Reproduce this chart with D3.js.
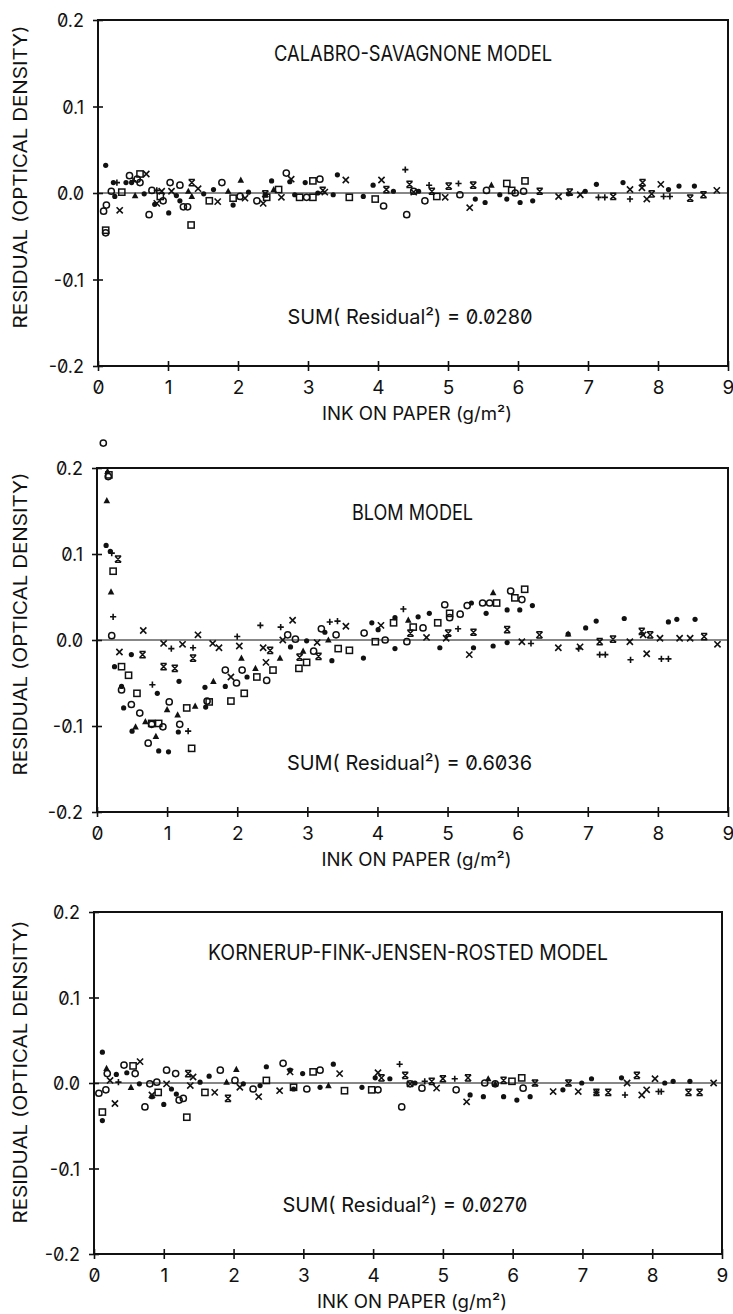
<!DOCTYPE html>
<html><head><meta charset="utf-8">
<script src="https://cdn.jsdelivr.net/npm/d3@7"></script>
<style>
html,body{margin:0;padding:0;background:#fff;}
svg{display:block;}
text{font-family:Inter,"DejaVu Sans",sans-serif;fill:#111;font-feature-settings:"zero" 1, "ss01" 0;}
</style></head><body>
<svg id="chart" width="733" height="1314"></svg>
<script>
// ---------- tick labels / texts ----------
const xTicks = [0,1,2,3,4,5,6,7,8,9];
const yTicks = [-0.2,-0.1,0,0.1,0.2];
const yTickLabels = ["-0.2","-0.1","0.0","0.1","0.2"];
const titles = ["CALABRO-SAVAGNONE MODEL","BLOM MODEL","KORNERUP-FINK-JENSEN-ROSTED MODEL"];
const sumValues = ["0.0280","0.6036","0.0270"];
const xAxisLabel = "INK ON PAPER (g/m²)";
const yAxisLabel = "RESIDUAL (OPTICAL DENSITY)";

// ---------- Panel 1: Calabro-Savagnone ----------
const csDot = [[0.11,0.032],[0.22,0.012],[0.24,-0.004],[0.40,0.012],[0.48,0.012],[0.66,-0.001],[0.81,-0.013],[1.01,-0.023],[1.12,-0.003],[1.17,-0.009],[1.51,-0.001],[1.65,0.004],[1.93,-0.014],[2.15,0.001],[2.39,-0.002],[2.48,0.014],[2.74,0.013],[2.81,-0.002],[2.96,0.012],[3.14,0.000],[3.36,-0.002],[3.42,0.021],[3.79,-0.004],[3.93,0.009],[4.22,0.002],[4.58,0.002],[5.39,-0.007],[5.53,-0.011],[5.74,-0.002],[5.84,-0.007],[6.03,-0.011],[6.21,-0.009],[6.72,-0.001],[6.96,0.002],[7.12,0.010],[7.50,0.012],[8.15,0.004],[8.30,0.008],[8.52,0.008]];
const csCircle = [[0.08,-0.021],[0.12,-0.014],[0.11,-0.046],[0.19,0.002],[0.45,0.020],[0.56,0.016],[0.60,0.012],[0.73,-0.025],[0.77,0.003],[0.93,-0.009],[1.03,0.012],[1.17,0.009],[1.22,-0.016],[1.28,-0.016],[1.77,0.012],[2.03,-0.004],[2.27,-0.009],[2.69,0.023],[2.98,-0.005],[3.17,0.016],[4.08,-0.015],[4.41,-0.025],[4.51,0.002],[4.67,-0.009],[5.17,-0.002],[5.55,0.003],[5.96,0.000],[6.08,0.002]];
const csSquare = [[0.11,-0.043],[0.34,0.001],[0.60,0.022],[0.89,-0.004],[1.33,-0.037],[1.59,-0.009],[1.93,-0.006],[2.41,-0.005],[2.58,0.004],[2.88,-0.005],[3.07,-0.005],[3.07,0.014],[3.59,-0.005],[3.96,-0.007],[4.84,-0.004],[5.84,0.011],[5.91,0.003],[6.10,0.014]];
const csTriangle = [[0.53,-0.003],[1.29,0.002],[1.34,-0.004],[1.86,0.002],[2.04,0.015],[2.51,0.004],[5.62,0.009]];
const csPlus = [[0.27,0.012],[0.50,0.014],[0.84,0.003],[4.39,0.027],[4.73,0.009],[5.15,0.011],[7.15,-0.005],[7.24,-0.005],[7.60,-0.007],[8.08,-0.004],[8.17,-0.004]];
const csCross = [[0.31,-0.020],[0.69,0.022],[0.84,-0.012],[0.91,0.002],[1.05,0.002],[1.43,0.005],[1.71,-0.010],[2.10,-0.006],[2.36,-0.012],[2.62,-0.005],[2.76,0.016],[3.24,0.001],[3.54,0.015],[4.05,0.015],[4.51,0.001],[4.96,-0.005],[5.31,-0.017],[6.58,-0.004],[6.89,-0.002],[7.60,0.004],[7.77,0.006],[7.84,-0.007],[8.04,0.010],[8.84,0.003]];
const csHourglass = [[1.34,0.012],[2.39,-0.001],[3.21,0.003],[4.12,0.004],[4.45,0.010],[4.77,0.002],[5.01,0.008],[5.36,0.009],[6.31,0.002],[6.74,0.001],[7.36,-0.004],[7.78,0.012],[7.91,-0.001],[8.46,-0.006],[8.65,-0.002]];

// ---------- Panel 2: Blom ----------
const blDot = [[0.13,0.110],[0.19,0.103],[0.49,-0.017],[0.25,-0.031],[0.35,-0.054],[0.38,-0.079],[0.50,-0.106],[0.88,-0.129],[1.02,-0.130],[0.86,-0.062],[1.17,-0.048],[1.16,-0.107],[1.54,-0.055],[1.55,-0.078],[1.83,-0.054],[2.14,-0.043],[2.76,-0.008],[2.99,-0.001],[3.25,0.009],[3.35,-0.024],[3.80,-0.021],[3.92,0.020],[4.01,0.012],[4.25,0.026],[4.25,-0.010],[4.58,0.027],[4.74,0.031],[4.89,-0.009],[5.34,0.043],[5.37,-0.009],[5.55,0.031],[5.65,-0.007],[5.85,0.035],[5.85,-0.003],[6.03,0.035],[6.21,0.040],[6.72,0.007],[6.97,0.014],[7.12,0.022],[7.52,0.025],[8.15,0.021],[8.27,0.024],[8.53,0.024]];
const blCircle = [[0.09,0.229],[0.16,0.190],[0.21,0.005],[0.35,-0.058],[0.49,-0.075],[0.61,-0.085],[0.73,-0.120],[0.78,-0.098],[0.94,-0.101],[1.03,-0.072],[1.18,-0.098],[1.57,-0.071],[1.83,-0.035],[1.99,-0.050],[2.07,-0.035],[2.42,-0.047],[2.72,0.006],[2.83,0.001],[3.09,-0.013],[3.20,0.013],[3.41,0.006],[3.81,0.008],[4.11,0.000],[4.42,-0.002],[4.65,0.014],[4.96,0.041],[5.03,0.026],[5.18,0.030],[5.28,0.040],[5.50,0.043],[5.60,0.043],[5.90,0.057],[6.06,0.047]];
const blSquare = [[0.17,0.192],[0.23,0.080],[0.35,-0.031],[0.45,-0.041],[0.57,-0.062],[0.78,-0.097],[0.88,-0.097],[1.28,-0.079],[1.35,-0.126],[1.60,-0.072],[1.91,-0.071],[2.10,-0.062],[2.28,-0.043],[2.51,-0.035],[2.88,-0.033],[2.99,-0.026],[3.44,-0.010],[3.60,-0.012],[3.97,-0.002],[4.23,0.020],[4.51,0.015],[4.86,0.020],[5.03,0.031],[5.70,0.043],[5.96,0.049],[6.10,0.059]];
const blTriangle = [[0.15,0.196],[0.14,0.162],[0.20,0.056],[0.55,-0.101],[0.69,-0.095],[0.84,-0.112],[1.00,-0.081],[1.15,-0.087],[1.40,-0.077],[1.66,-0.048],[2.06,-0.021],[2.26,-0.033],[2.61,-0.021],[2.94,-0.013],[3.30,0.000],[4.44,0.023],[5.65,0.055],[6.72,0.007]];
const blPlus = [[0.21,0.101],[0.23,0.027],[0.79,-0.052],[1.06,-0.010],[1.30,-0.106],[1.37,-0.009],[2.00,0.004],[2.33,0.017],[2.62,0.015],[3.32,0.021],[3.43,0.022],[4.37,0.036],[5.15,0.013],[6.19,-0.004],[6.87,-0.010],[7.17,-0.017],[7.25,-0.017],[7.61,-0.023],[8.05,-0.022],[8.15,-0.022]];
const blCross = [[0.32,-0.014],[0.66,0.011],[0.95,-0.004],[1.22,-0.005],[1.44,0.006],[1.65,-0.004],[1.74,-0.009],[1.91,-0.043],[2.03,-0.007],[2.37,-0.009],[2.41,-0.026],[2.65,0.000],[2.79,0.023],[3.14,-0.003],[3.55,0.016],[4.05,0.017],[4.70,0.003],[4.98,0.002],[5.31,-0.017],[6.06,-0.002],[6.58,-0.009],[6.89,-0.008],[7.60,-0.002],[7.79,0.006],[7.84,-0.016],[8.03,0.002],[8.31,0.002],[8.46,0.002],[8.85,-0.005]];
const blHourglass = [[0.30,0.094],[0.65,-0.017],[0.95,-0.031],[1.11,-0.033],[1.37,-0.021],[2.47,-0.012],[2.89,-0.020],[3.16,-0.019],[4.47,0.008],[5.01,0.008],[5.37,0.009],[5.85,0.012],[6.31,0.006],[7.17,-0.002],[7.36,0.001],[7.77,0.010],[7.89,0.006],[8.66,0.004]];

// ---------- Panel 3: Kornerup-Fink-Jensen-Rosted ----------
const kfDot = [[0.12,0.036],[0.12,-0.044],[0.32,0.010],[0.47,0.012],[0.65,-0.001],[0.83,-0.016],[1.00,-0.025],[1.11,-0.007],[1.18,-0.013],[1.52,0.001],[1.65,0.008],[2.14,-0.001],[2.38,-0.003],[2.47,0.019],[2.81,0.015],[2.86,-0.007],[2.99,0.011],[3.24,-0.005],[3.43,0.022],[3.84,-0.005],[4.03,0.006],[4.24,0.005],[4.60,0.000],[5.39,-0.014],[5.58,-0.016],[5.87,-0.016],[6.06,-0.020],[6.25,-0.016],[6.72,-0.008],[6.99,0.000],[7.13,0.005],[7.56,0.006],[8.18,0.000],[8.30,0.002],[8.54,0.002]];
const kfCircle = [[0.07,-0.012],[0.17,-0.008],[0.19,0.011],[0.43,0.021],[0.59,0.011],[0.73,-0.028],[0.80,-0.001],[0.90,0.001],[1.04,0.015],[1.17,0.011],[1.22,-0.020],[1.28,-0.018],[1.81,0.015],[2.02,0.003],[2.28,-0.007],[2.71,0.023],[3.05,-0.007],[3.24,0.015],[4.07,-0.008],[4.41,-0.028],[4.53,-0.001],[4.70,-0.006],[5.19,-0.008],[5.60,0.000],[5.75,-0.001],[6.15,-0.006]];
const kfSquare = [[0.12,-0.034],[0.56,0.020],[0.92,-0.011],[1.33,-0.040],[1.59,-0.011],[2.47,0.003],[2.86,-0.005],[3.14,0.013],[3.59,-0.009],[3.98,-0.008],[5.99,0.002],[6.13,0.006]];
const kfTriangle = [[0.18,0.017],[0.53,-0.005],[1.90,0.001],[2.04,0.016],[3.36,-0.003],[5.65,0.005],[5.75,-0.001]];
const kfPlus = [[0.35,0.001],[4.38,0.022],[4.74,0.002],[5.17,0.005],[7.20,-0.011],[7.61,-0.014],[8.09,-0.010],[8.13,-0.010]];
const kfCross = [[0.30,-0.024],[0.23,0.003],[0.66,0.025],[0.83,-0.014],[1.04,-0.001],[1.38,-0.003],[1.42,0.007],[1.73,-0.011],[2.09,-0.005],[2.36,-0.016],[2.66,-0.009],[2.81,0.013],[3.52,0.011],[4.07,0.012],[4.53,-0.001],[4.91,-0.006],[5.34,-0.022],[6.58,-0.010],[6.94,-0.010],[7.64,0.000],[7.85,-0.014],[7.92,-0.008],[8.04,0.005],[8.88,0.000]];
const kfHourglass = [[1.35,0.011],[1.92,-0.018],[4.12,0.006],[4.46,0.009],[4.84,0.002],[5.00,0.005],[5.36,0.006],[5.87,0.003],[6.32,0.000],[6.80,0.000],[7.20,-0.011],[7.37,-0.011],[7.78,0.009],[8.52,-0.011],[8.68,-0.011]];

// ---------- layout ----------
const panels = [
  {box:{l:98,r:728,t:20,b:366}, title:titles[0], titleY:61, titleW:278, sum:sumValues[0], ylabCy:177,
   series:{dot:csDot,circle:csCircle,square:csSquare,triangle:csTriangle,plus:csPlus,cross:csCross,hourglass:csHourglass}},
  {box:{l:97,r:728,t:468,b:812}, title:titles[1], titleY:520, titleW:121, sum:sumValues[1], ylabCy:624,
   series:{dot:blDot,circle:blCircle,square:blSquare,triangle:blTriangle,plus:blPlus,cross:blCross,hourglass:blHourglass}},
  {box:{l:94,r:722,t:912,b:1254}, title:titles[2], titleY:960, titleW:400, sum:sumValues[2], ylabCy:1072,
   series:{dot:kfDot,circle:kfCircle,square:kfSquare,triangle:kfTriangle,plus:kfPlus,cross:kfCross,hourglass:kfHourglass}}
];

const svg = d3.select("#chart");
const INK = "#111";

function drawMarker(g, type, x, y){
  const s = 3.1;
  if(type==="dot"){
    g.append("circle").attr("cx",x).attr("cy",y).attr("r",2.6).attr("fill",INK);
  } else if(type==="circle"){
    g.append("circle").attr("cx",x).attr("cy",y).attr("r",3.1).attr("fill","none").attr("stroke",INK).attr("stroke-width",1.5);
  } else if(type==="square"){
    g.append("rect").attr("x",x-3.1).attr("y",y-3.1).attr("width",6.2).attr("height",6.2).attr("fill","none").attr("stroke",INK).attr("stroke-width",1.5);
  } else if(type==="triangle"){
    g.append("path").attr("d",`M${x},${y-3.6}L${x+3.3},${y+2.6}L${x-3.3},${y+2.6}Z`).attr("fill",INK);
  } else if(type==="plus"){
    g.append("path").attr("d",`M${x-s},${y}H${x+s}M${x},${y-s}V${y+s}`).attr("stroke",INK).attr("stroke-width",1.6);
  } else if(type==="cross"){
    g.append("path").attr("d",`M${x-s},${y-s}L${x+s},${y+s}M${x+s},${y-s}L${x-s},${y+s}`).attr("stroke",INK).attr("stroke-width",1.6);
  } else if(type==="hourglass"){
    g.append("path").attr("d",`M${x-s},${y-s}H${x+s}M${x-s},${y+s}H${x+s}M${x-s},${y-s}L${x+s},${y+s}M${x+s},${y-s}L${x-s},${y+s}`).attr("stroke",INK).attr("stroke-width",1.5);
  }
}

panels.forEach((p)=>{
  const {l,r,t,b} = p.box;
  const x = d3.scaleLinear().domain([0,9]).range([l,r]);
  const y = d3.scaleLinear().domain([-0.2,0.2]).range([b,t]);
  const g = svg.append("g");

  // frame
  g.append("rect").attr("x",l).attr("y",t).attr("width",r-l).attr("height",b-t)
    .attr("fill","none").attr("stroke",INK).attr("stroke-width",2);

  // zero line
  g.append("line").attr("x1",x(0)).attr("x2",x(9)).attr("y1",y(0)).attr("y2",y(0))
    .attr("stroke",INK).attr("stroke-width",1.2);

  // y axis
  const ya = g.append("g").attr("transform",`translate(${l},0)`)
    .call(d3.axisLeft(y).tickValues(yTicks).tickFormat((d,i)=>yTickLabels[i]).tickSize(5).tickPadding(9));
  ya.select(".domain").remove();
  ya.attr("font-family",null);
  ya.selectAll(".tick line").attr("x1",5).attr("x2",-5).attr("stroke",INK).attr("stroke-width",1.6);
  ya.selectAll(".tick text").attr("font-size",18).attr("fill",INK).attr("dy","0.38em")
    .style("font-family",'Inter,"DejaVu Sans",sans-serif').style("font-feature-settings",'"zero" 1');

  // x axis
  const xa = g.append("g").attr("transform",`translate(0,${b})`)
    .call(d3.axisBottom(x).tickValues(xTicks).tickFormat(d3.format("d")).tickSize(5).tickPadding(10));
  xa.select(".domain").remove();
  xa.attr("font-family",null);
  xa.selectAll(".tick line").attr("y1",-5).attr("y2",5).attr("stroke",INK).attr("stroke-width",1.6);
  xa.selectAll(".tick text").attr("font-size",19).attr("fill",INK)
    .style("font-family",'Inter,"DejaVu Sans",sans-serif').style("font-feature-settings",'"zero" 1');

  // title
  g.append("text").attr("x",(l+r)/2).attr("y",p.titleY).attr("text-anchor","middle")
    .attr("font-size",21).attr("textLength",p.titleW).attr("lengthAdjust","spacingAndGlyphs").text(p.title);

  // sum
  g.append("text").attr("x",(l+r)/2 - 3).attr("y",b-42).attr("text-anchor","middle")
    .attr("font-size",20).attr("textLength",245).attr("lengthAdjust","spacingAndGlyphs")
    .text("SUM( Residual²) = " + p.sum);

  // x label
  g.append("text").attr("x",(l+r)/2 + 4).attr("y",b+54).attr("text-anchor","middle")
    .attr("font-size",18).attr("textLength",190).attr("lengthAdjust","spacingAndGlyphs").text(xAxisLabel);

  // y label
  g.append("text").attr("transform",`translate(27,${p.ylabCy}) rotate(-90)`).attr("text-anchor","middle")
    .attr("font-size",18).attr("textLength",303).attr("lengthAdjust","spacingAndGlyphs").text(yAxisLabel);

  // points
  const pts = g.append("g");
  Object.entries(p.series).forEach(([type,arr])=>{
    arr.forEach(d=>drawMarker(pts,type,x(d[0]),y(d[1])));
  });
});
</script>
</body></html>
